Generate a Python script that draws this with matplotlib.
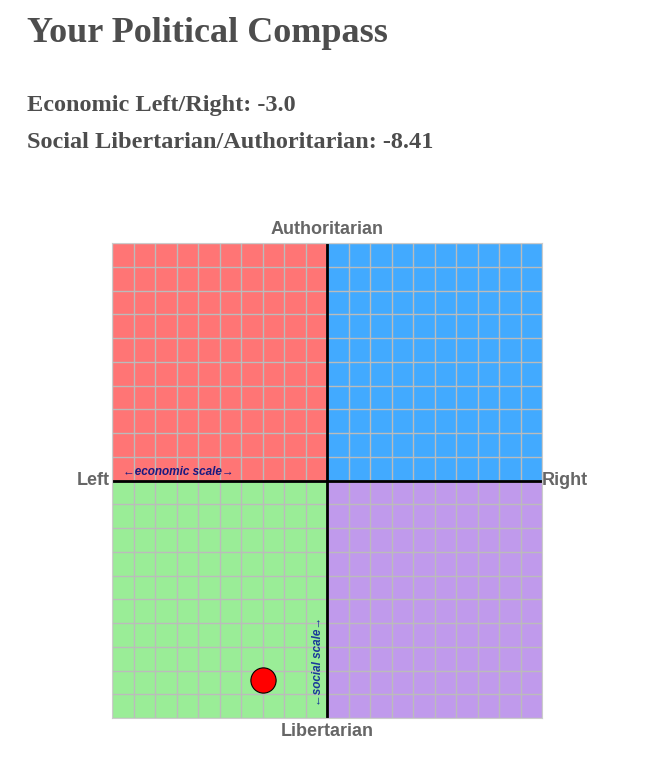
import matplotlib
matplotlib.use("Agg")
import matplotlib.pyplot as plt
from matplotlib.patches import Rectangle

title = "Your Political Compass"
economic = -3.0
social = -8.41
quadrants = [(-10, 0, "#FF7575"), (0, 0, "#42AAFF"), (-10, -10, "#9AED97"), (0, -10, "#C09AEC")]
ticks = list(range(-10, 11))

fig = plt.figure(figsize=(6.51, 7.59), dpi=100)
serif = ["Liberation Serif", "DejaVu Serif"]
fig.text(27/651, 1-33/759, title, family=serif, weight="bold", fontsize=26, color="#4d4d4d", va="center")
fig.text(27/651, 1-106/759, f"Economic Left/Right: {economic}", family=serif, weight="bold", fontsize=17.5, color="#4d4d4d", va="center")
fig.text(27/651, 1-143/759, f"Social Libertarian/Authoritarian: {social}", family=serif, weight="bold", fontsize=17.5, color="#4d4d4d", va="center")

ax = fig.add_axes([112/651, 41/759, 430/651, 475/759])
for x0, y0, c in quadrants:
    ax.add_patch(Rectangle((x0, y0), 10, 10, color=c, zorder=0))
for t in ticks:
    ax.axvline(t, color="#BBBBBB", lw=1, zorder=1)
    ax.axhline(t, color="#BBBBBB", lw=1, zorder=1)
ax.axvline(0, color="black", lw=2, zorder=2)
ax.axhline(0, color="black", lw=2, zorder=2)
ax.set_xlim(-10, 10); ax.set_ylim(-10, 10)
ax.set_xticks([]); ax.set_yticks([])
for s in ax.spines.values():
    s.set_color("#CCCCCC")
ax.scatter([economic], [social], s=330, color="red", edgecolor="black", lw=0.8, zorder=5)
lab = dict(weight="bold", fontsize=13, color="#666666", family="Liberation Sans")
ax.text(0, 10.2, "Authoritarian", ha="center", va="bottom", **lab)
ax.text(0, -10.2, "Libertarian", ha="center", va="top", **lab)
ax.text(-10.1, 0, "Left", ha="right", va="center", **lab)
ax.text(10.0, 0, "Right", ha="left", va="center", **lab)
ax.text(-9.5, 0.12, "←economic scale→", ha="left", va="bottom", style="italic", weight="bold", fontsize=8.5, color="#1a1a80", family="Liberation Sans")
ax.text(-0.15, -9.5, "←social scale→", ha="right", va="bottom", rotation=90, style="italic", weight="bold", fontsize=8.5, color="#1a3a9a", family="Liberation Sans")
fig.savefig("out.png", dpi=100)
